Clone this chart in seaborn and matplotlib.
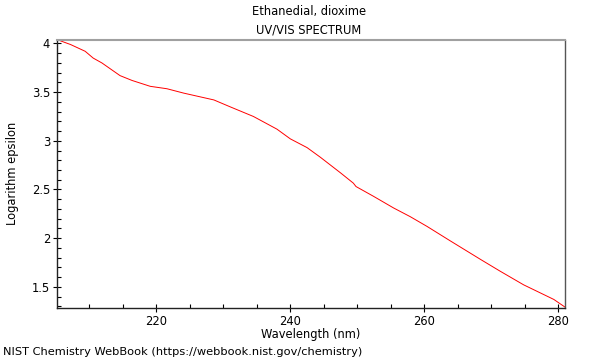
import numpy as np
import pandas as pd
import seaborn as sns
import matplotlib.pyplot as plt
from matplotlib.ticker import MultipleLocator

# values
wavelength = [205.2, 207.2, 209.4, 210.6, 211.9, 214.6, 216.4, 219.1, 221.6, 224.1,
              228.6, 231.0, 234.5, 238.0, 239.0, 240.0, 242.5, 244.5, 247.5, 249.4,
              249.8, 252.4, 255.4, 257.9, 260.4, 263.9, 268.4, 271.3, 274.8, 279.3,
              281.0]
log_eps = [4.04, 3.99, 3.92, 3.85, 3.80, 3.67, 3.62, 3.56, 3.535, 3.49,
           3.42, 3.35, 3.25, 3.12, 3.07, 3.02, 2.93, 2.83, 2.67, 2.565,
           2.53, 2.43, 2.31, 2.22, 2.12, 1.97, 1.78, 1.66, 1.52, 1.37,
           1.29]

df = pd.DataFrame({"wl": wavelength, "le": log_eps})

sns.set_style("ticks")
plt.rcParams["font.family"] = ["DejaVu Sans"]
plt.rcParams["text.color"] = "black"
plt.rcParams["axes.labelcolor"] = "black"
plt.rcParams["xtick.color"] = "black"
plt.rcParams["ytick.color"] = "black"

fig = plt.figure(figsize=(6, 3.6), dpi=100)
ax = fig.add_axes([0.095, 0.145, 0.847, 0.745])

sns.lineplot(data=df, x="wl", y="le", sort=False, color="red", linewidth=0.7, ax=ax)

ax.set_xlim(205.2, 281.0)
ax.set_ylim(1.284, 4.04)
ax.xaxis.set_major_locator(MultipleLocator(20))
ax.xaxis.set_minor_locator(MultipleLocator(5))
ax.yaxis.set_minor_locator(MultipleLocator(0.1))
ax.set_yticks([1.5, 2, 2.5, 3, 3.5, 4])
ax.set_yticklabels(["1.5", "2", "2.5", "3", "3.5", "4"])
ax.tick_params(which="major", direction="inout", length=6, width=0.8,
               labelsize=8.3, pad=2, colors="black")
ax.tick_params(which="minor", direction="in", length=3, width=0.8, colors="black")

for s in ["left", "bottom"]:
    ax.spines[s].set_color("#222222")
    ax.spines[s].set_linewidth(1)
ax.spines["top"].set_color("#a0a0a0")
ax.spines["top"].set_linewidth(1.5)
ax.spines["right"].set_color("#555555")
ax.spines["right"].set_linewidth(1)

ax.set_xlabel("Wavelength (nm)", fontsize=8.3, labelpad=0)
ax.set_ylabel("Logarithm epsilon", fontsize=8.3, labelpad=9)

fig.text(0.515, 0.967, "Ethanedial, dioxime", ha="center", va="center", fontsize=8.3)
fig.text(0.515, 0.917, "UV/VIS SPECTRUM", ha="center", va="center", fontsize=8.3)
fig.text(0.005, 0.022, "NIST Chemistry WebBook (https://webbook.nist.gov/chemistry)",
         ha="left", va="center", fontsize=8.2)

plt.savefig("out.png", dpi=100)
